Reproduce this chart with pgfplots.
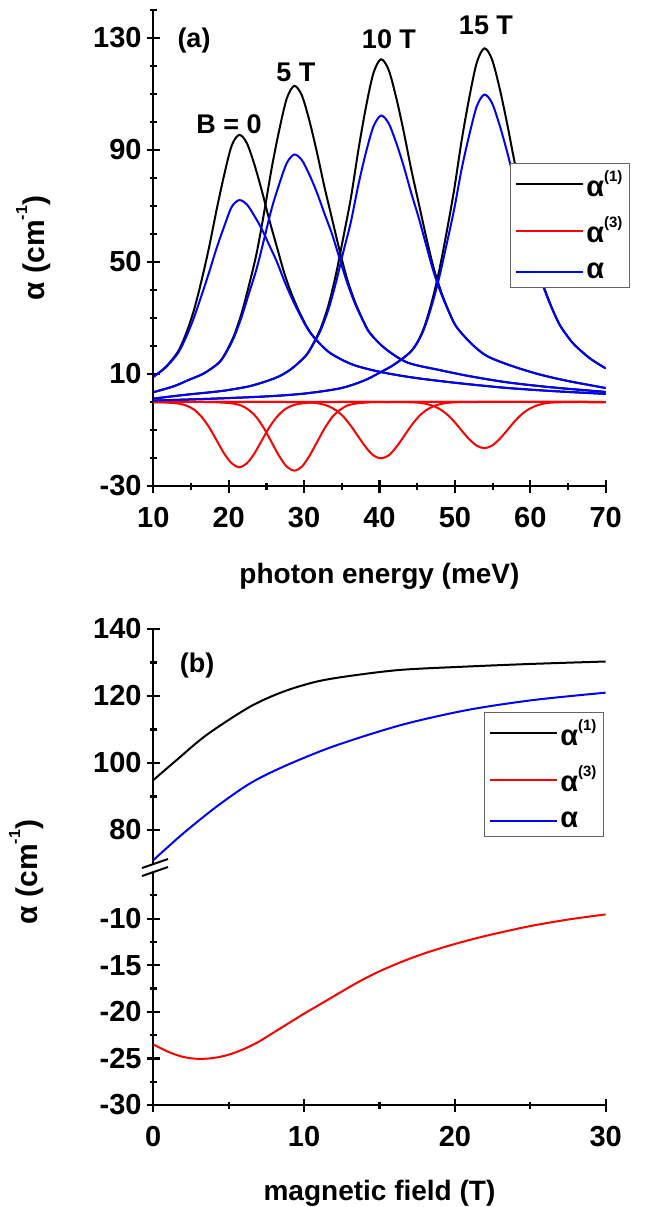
\documentclass[border=0pt]{standalone}
\usepackage{fontspec}
\setmainfont{Liberation Sans}
\usepackage{pgfplots}
\pgfplotsset{compat=1.18}

\newcommand\F[1]{\fontsize{#1}{#1}\selectfont\bfseries}
\newcommand\sop[1]{\raisebox{15pt}{\F{15}#1}}

\pgfplotsset{
  blk/.style={black, line width=2pt, smooth},
  rd/.style={red, line width=2pt, smooth},
  bl/.style={blue, line width=2pt, smooth},
  noarrow/.style={
    axis line style={-},
    every outer x axis line/.append style={-},
    every outer y axis line/.append style={-},
    x axis line style={-}, y axis line style={-},
  },
  panel/.style={
    scale only axis, width=452.4pt, anchor=south west,
    axis line style={line width=2.2pt},
    tick style={line width=2.2pt, black},
    tick align=outside,
    major tick length=13pt, minor tick length=7pt,
    tick label style={font=\F{29}, inner sep=0pt},
    yticklabel style={xshift=-5pt},
    xticklabel style={yshift=-15pt},
    legend cell align=left,
    legend image code/.code={\draw[##1] (0pt,0pt) -- (67pt,0pt);},
    legend style={draw=gray!80!black, line width=1pt, fill=white,
      font=\F{29}, inner xsep=5pt, inner ysep=5pt, row sep=15pt,
      nodes={inner sep=2pt}},
  },
}

\begin{document}
\begin{tikzpicture}
\path[use as bounding box] (0,0) rectangle (650pt,-1207pt);

% ---------------- panel (a): absorption vs photon energy
\begin{axis}[panel, at={(153.3pt,-486pt)}, height=476pt,
  xmin=10, xmax=70, ymin=-30, ymax=140,
  axis x line=bottom, axis y line=left, noarrow,
  xtick={10,20,30,40,50,60,70}, xticklabels={10,20,30,40,50,60,70},
  minor xtick={15,25,35,45,55,65},
  ytick={-30,10,50,90,130}, yticklabels={-30,10,50,90,130},
  minor ytick={-20,-10,0,20,30,40,60,70,80,100,110,120,140},
  legend style={at={(axis description cs:1.0537,0.6786)}, anchor=north east}]

% alpha^(1)
\addplot[blk] coordinates {(10,9.0) (11.4,11.9) (12.4,14.8) (13.4,18.6) (14.4,24.8) (15.4,32.9) (16.4,43.4) (17.4,55.3) (18.4,68.7) (19.4,81.1) (20.4,91.6) (21.4,95.4) (22.4,92.5) (23.4,84.9) (24.4,75.4) (25.4,64.9) (26.4,55.3) (27.4,45.8) (28.4,38.2) (29.4,32.0) (30.4,26.7) (31.4,22.9) (33.4,17.6) (36.4,13.4) (40,10.8) (44,8.9) (48,7.5) (52,6.3) (57,5.0) (63,3.9) (70,2.9)};
\addlegendentry{α\sop{(1)}}
\addplot[blk, forget plot] coordinates {(10,3.5) (12.7,5.6) (14.7,7.9) (16.7,10.2) (18.7,14.1) (19.7,18.1) (20.7,23.7) (21.7,31.6) (22.7,41.8) (23.7,53.1) (24.7,67.7) (25.7,83.5) (26.7,97.1) (27.7,108.4) (28.7,112.9) (29.7,109.5) (30.7,100.5) (31.7,89.2) (32.7,76.8) (33.7,65.5) (34.7,54.2) (35.7,44.0) (36.7,36.1) (37.7,29.9) (38.7,24.8) (40.7,19.2) (43.7,14.1) (48,11.4) (52,9.2) (57,7.0) (63,5.2) (70,3.6)};
\addplot[blk, forget plot] coordinates {(10,1.2) (14,2.5) (18,3.6) (20,4.3) (23,5.8) (26.2,8.6) (28.2,11.6) (30.2,16.5) (31.2,20.8) (32.2,26.3) (33.2,34.3) (34.2,45.3) (35.2,58.8) (36.2,72.8) (37.2,90.0) (38.2,105.3) (39.2,117.5) (40.2,122.4) (41.2,118.7) (42.2,108.9) (43.2,96.7) (44.2,83.2) (45.2,71.0) (46.2,58.8) (47.2,47.7) (48.2,39.2) (49.2,32.4) (50.2,26.9) (52.2,20.8) (54.2,16.5) (57.2,13.2) (61,10.0) (65,7.5) (70,5.0)};
\addplot[blk, forget plot] coordinates {(10,0.5) (18,1.2) (25,2.0) (30,3.0) (34.8,4.9) (37.9,7.6) (39.9,10.3) (41.9,13.3) (43.9,17.4) (44.9,20.8) (45.9,26.5) (46.9,35.4) (47.9,46.7) (48.9,60.6) (49.9,75.8) (50.9,93.5) (51.9,108.6) (52.9,121.2) (53.9,126.3) (54.9,122.5) (55.9,112.4) (56.9,99.8) (57.9,85.9) (58.9,73.3) (59.9,60.6) (60.9,49.3) (61.9,40.4) (62.9,33.4) (63.9,27.6) (64.9,23.6) (65.9,20.3) (67.9,15.6) (70,12.0)};

% alpha^(3)
\addplot[rd] coordinates {(10,0) (11.4,-0.15) (12.4,-0.3) (13.4,-0.6) (14.4,-1.3) (15.4,-2.7) (16.4,-5.3) (17.4,-9.0) (18.4,-13.7) (19.4,-18.4) (20.4,-21.9) (21.4,-23.3) (22.4,-21.9) (23.4,-18.4) (24.4,-13.7) (25.4,-9.0) (26.4,-5.3) (27.4,-2.7) (28.4,-1.3) (29.4,-0.6) (30.4,-0.3) (31.4,-0.15) (34,0) (70,0)};
\addlegendentry{α\sop{(3)}}
\addplot[rd, forget plot] coordinates {(10,0) (17,0) (18.7,-0.15) (19.7,-0.3) (20.7,-0.6) (21.7,-1.3) (22.7,-2.9) (23.7,-5.5) (24.7,-9.5) (25.7,-14.4) (26.7,-19.3) (27.7,-23.1) (28.7,-24.5) (29.7,-23.1) (30.7,-19.3) (31.7,-14.4) (32.7,-9.5) (33.7,-5.5) (34.7,-2.9) (35.7,-1.3) (36.7,-0.6) (37.7,-0.3) (38.7,-0.15) (41,0) (70,0)};
\addplot[rd, forget plot] coordinates {(10,0) (28,0) (30.2,-0.1) (31.2,-0.25) (32.2,-0.65) (33.2,-1.45) (34.2,-2.9) (35.2,-5.2) (36.2,-8.5) (37.2,-12.4) (38.2,-16.2) (39.2,-19.1) (40.2,-20.1) (41.2,-19.1) (42.2,-16.2) (43.2,-12.4) (44.2,-8.5) (45.2,-5.2) (46.2,-2.9) (47.2,-1.45) (48.2,-0.65) (49.2,-0.25) (50.2,-0.1) (52.5,0) (70,0)};
\addplot[rd, forget plot] coordinates {(10,0) (41.5,0) (43.9,-0.1) (44.9,-0.2) (45.9,-0.5) (46.9,-1.2) (47.9,-2.4) (48.9,-4.3) (49.9,-7.0) (50.9,-10.2) (51.9,-13.3) (52.9,-15.6) (53.9,-16.5) (54.9,-15.6) (55.9,-13.3) (56.9,-10.2) (57.9,-7.0) (58.9,-4.3) (59.9,-2.4) (60.9,-1.2) (61.9,-0.5) (62.9,-0.2) (63.9,-0.1) (66,0) (70,0)};

% alpha = alpha^(1) + alpha^(3)
\addplot[bl] coordinates {(10,8.95) (11.4,11.75) (12.4,14.5) (13.4,18.0) (14.4,23.5) (15.4,30.2) (16.4,38.1) (17.4,46.3) (18.4,55.0) (19.4,62.7) (20.4,69.7) (21.4,72.1) (22.4,70.6) (23.4,66.5) (24.4,61.7) (25.4,55.9) (26.4,50.0) (27.4,43.1) (28.4,36.9) (29.4,31.4) (30.4,26.4) (31.4,22.75) (33.4,17.6) (36.4,13.4) (40,10.8) (44,8.9) (48,7.5) (52,6.3) (57,5.0) (63,3.9) (70,2.9)};
\addlegendentry{α}
\addplot[bl, forget plot] coordinates {(10,3.5) (12.7,5.6) (14.7,7.9) (16.7,10.2) (18.7,13.95) (19.7,17.8) (20.7,23.1) (21.7,30.3) (22.7,38.9) (23.7,47.6) (24.7,58.2) (25.7,69.1) (26.7,77.8) (27.7,85.3) (28.7,88.4) (29.7,86.4) (30.7,81.2) (31.7,74.8) (32.7,67.3) (33.7,60.0) (34.7,51.3) (35.7,42.7) (36.7,35.5) (37.7,29.6) (38.7,24.65) (40.7,19.2) (43.7,14.1) (48,11.4) (52,9.2) (57,7.0) (63,5.2) (70,3.6)};
\addplot[bl, forget plot] coordinates {(10,1.2) (14,2.5) (18,3.6) (20,4.3) (23,5.8) (26.2,8.6) (28.2,11.6) (30.2,16.4) (31.2,20.55) (32.2,25.65) (33.2,32.85) (34.2,42.4) (35.2,53.6) (36.2,64.3) (37.2,77.6) (38.2,89.1) (39.2,98.4) (40.2,102.3) (41.2,99.6) (42.2,92.7) (43.2,84.3) (44.2,74.7) (45.2,65.8) (46.2,55.9) (47.2,46.25) (48.2,38.55) (49.2,32.15) (50.2,26.8) (52.2,20.8) (54.2,16.5) (57.2,13.2) (61,10.0) (65,7.5) (70,5.0)};
\addplot[bl, forget plot] coordinates {(10,0.5) (18,1.2) (25,2.0) (30,3.0) (34.8,4.9) (37.9,7.6) (39.9,10.3) (41.9,13.3) (43.9,17.3) (44.9,20.6) (45.9,26.0) (46.9,34.2) (47.9,44.3) (48.9,56.3) (49.9,68.8) (50.9,83.3) (51.9,95.3) (52.9,105.6) (53.9,109.8) (54.9,106.9) (55.9,99.1) (56.9,89.6) (57.9,78.9) (58.9,69.0) (59.9,58.2) (60.9,48.1) (61.9,39.9) (62.9,33.2) (63.9,27.5) (64.9,23.6) (65.9,20.3) (67.9,15.6) (70,12.0)};
\end{axis}

% ---------------- panel (b), upper part
\begin{axis}[panel, at={(153.3pt,-863.5pt)}, height=234.5pt,
  xmin=0, xmax=30, ymin=70, ymax=140,
  axis y line=left, axis x line=none, noarrow,
  ytick={80,100,120,140}, yticklabels={80,100,120,140},
  minor ytick={90,110,130},
  legend style={at={(axis description cs:0.9962,0.646)}, anchor=north east}]
\addplot[blk] coordinates {(0,94.9) (1.55,100.9) (3.54,108.4) (6.41,116.8) (8.62,121.3) (10.83,124.3) (13.04,126.0) (16.4,127.8) (20.8,128.8) (25.2,129.6) (30,130.3)};
\addlegendentry{α\sop{(1)}}
\addlegendimage{rd}
\addlegendentry{α\sop{(3)}}
\addplot[bl] coordinates {(0,71.0) (1.99,79.0) (4.2,87.0) (6.41,93.9) (8.62,98.9) (11.9,104.9) (16.4,111.3) (20.8,115.8) (25.2,118.8) (30,121.0)};
\addlegendentry{α}
\end{axis}

% ---------------- panel (b), lower part
\begin{axis}[panel, at={(153.3pt,-1105pt)}, height=233pt,
  xmin=0, xmax=30, ymin=-30, ymax=-5,
  axis x line=bottom, axis y line=left, noarrow,
  xtick={0,10,20,30}, xticklabels={0,10,20,30}, minor xtick={5,15,25},
  ytick={-30,-25,-20,-15,-10}, yticklabels={-30,-25,-20,-15,-10},
  minor ytick={-27.5,-22.5,-17.5,-12.5,-7.5}]
\addplot[rd] coordinates {(0,-23.5) (1,-24.3) (2,-24.85) (3,-25.05) (4,-24.95) (5,-24.6) (6,-24.0) (7,-23.2) (8,-22.2) (9,-21.2) (10,-20.2) (11,-19.25) (12,-18.3) (13,-17.35) (14,-16.45) (15,-15.65) (16,-14.95) (17,-14.3) (18,-13.72) (19,-13.2) (20,-12.72) (21,-12.28) (22.5,-11.68) (25,-10.8) (27.5,-10.1) (30,-9.55)};
\end{axis}

% axis break marks
\draw[line width=2pt] (142pt,-868pt) -- (168pt,-859pt);
\draw[line width=2pt] (142pt,-876pt) -- (168pt,-867pt);

% labels
\node[font=\F{27}] at (194pt,-41pt) {(a)};
\node[font=\F{27}] at (229pt,-124pt) {B = 0};
\node[font=\F{27}] at (296pt,-72pt) {5 T};
\node[font=\F{27}] at (389pt,-39pt) {10 T};
\node[font=\F{27}] at (486pt,-25pt) {15 T};
\node[font=\F{27}] at (197pt,-666pt) {(b)};
\node[font=\F{28}, anchor=base] at (379.5pt,-583pt) {photon energy (meV)};
\node[font=\F{28}, anchor=base] at (379.5pt,-1200pt) {magnetic field (T)};
\node[font=\F{30}, rotate=90, anchor=base] at (44pt,-248pt) {α (cm\raisebox{17pt}{\F{16}-1})};
\node[font=\F{30}, rotate=90, anchor=base] at (37pt,-872pt) {α (cm\raisebox{17pt}{\F{16}-1})};
\end{tikzpicture}
\end{document}
